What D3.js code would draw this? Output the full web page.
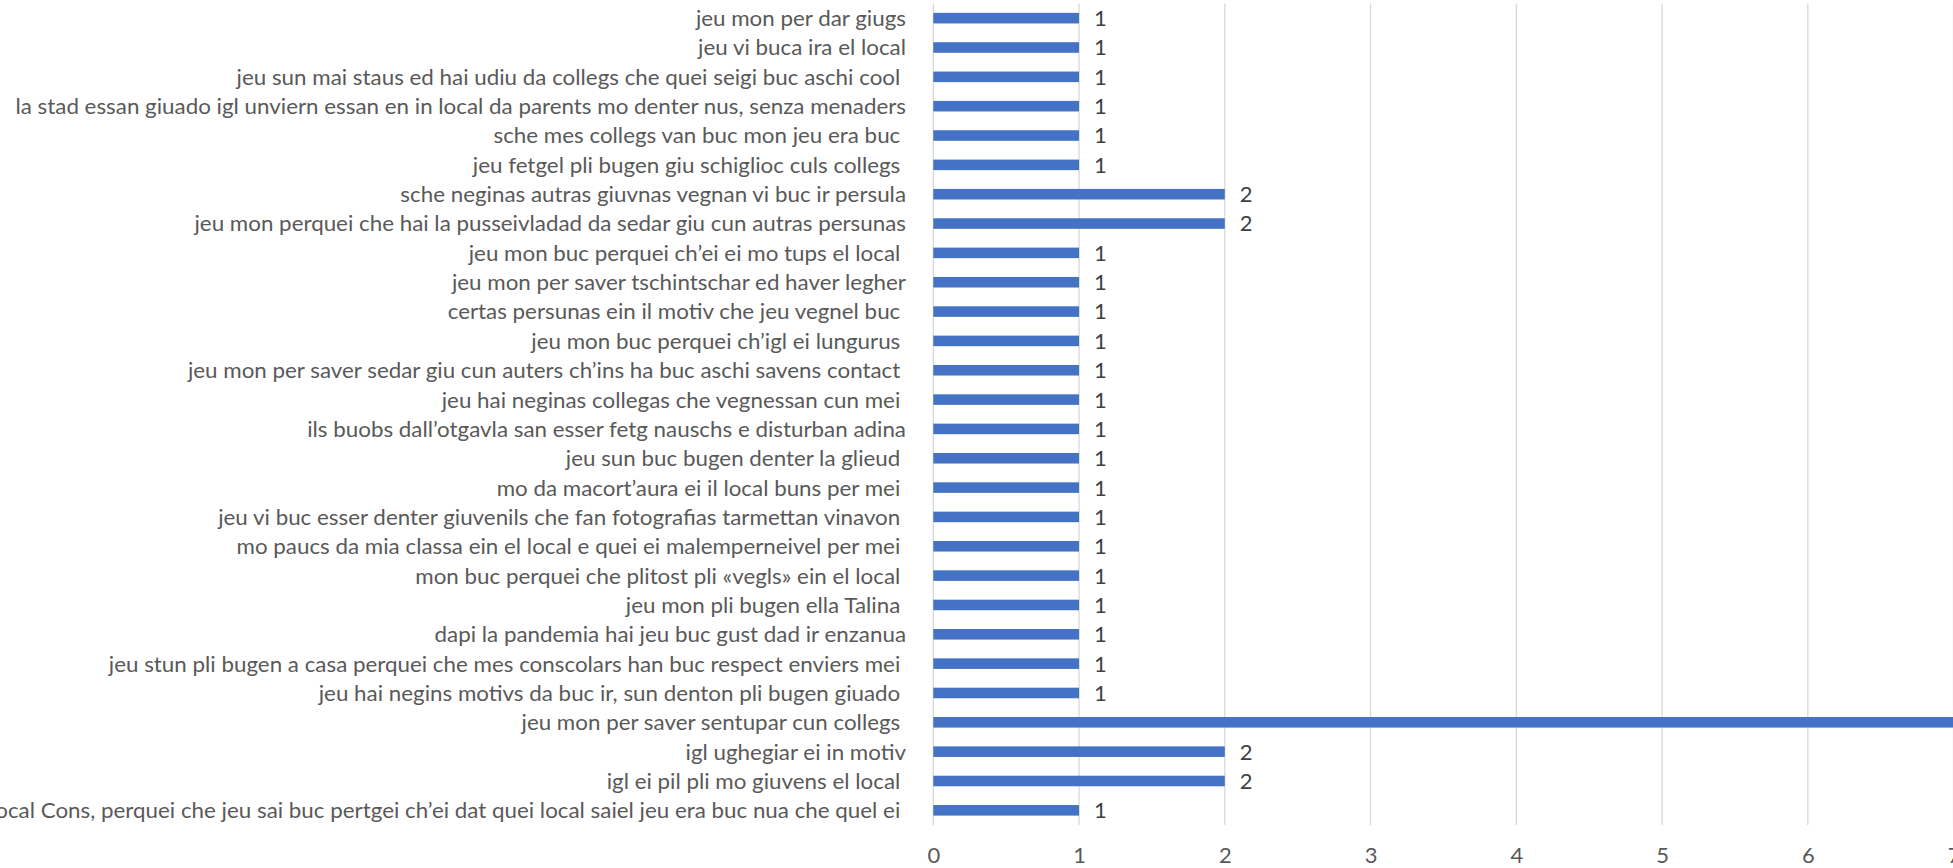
<!DOCTYPE html>
<html><head><meta charset="utf-8">
<script src="https://cdn.jsdelivr.net/npm/d3@7"></script>
<style>
html,body{margin:0;padding:0;background:#fff;overflow:hidden;}
svg{display:block;}
text{font-family:Lato,"Open Sans",sans-serif;white-space:pre;}
</style></head>
<body>
<svg id="chart" width="1953" height="868"></svg>
<script>
const categories = [
  "jeu mon per dar giugs",
  "jeu vi buca ira el local",
  "jeu sun mai staus ed hai udiu da collegs che quei seigi buc aschi cool ",
  "la stad essan giuado igl unviern essan en in local da parents mo denter nus, senza menaders",
  "sche mes collegs van buc mon jeu era buc ",
  "jeu fetgel pli bugen giu schiglioc culs collegs ",
  "sche neginas autras giuvnas vegnan vi buc ir persula",
  "jeu mon perquei che hai la pusseivladad da sedar giu cun autras persunas",
  "jeu mon buc perquei ch’ei ei mo tups el local ",
  "jeu mon per saver tschintschar ed haver legher",
  "certas persunas ein il motiv che jeu vegnel buc ",
  "jeu mon buc perquei ch’igl ei lungurus ",
  "jeu mon per saver sedar giu cun auters ch’ins ha buc aschi savens contact ",
  "jeu hai neginas collegas che vegnessan cun mei ",
  "ils buobs dall’otgavla san esser fetg nauschs e disturban adina",
  "jeu sun buc bugen denter la glieud ",
  "mo da macort’aura ei il local buns per mei ",
  "jeu vi buc esser denter giuvenils che fan fotografias tarmettan vinavon ",
  "mo paucs da mia classa ein el local e quei ei malemperneivel per mei ",
  "mon buc perquei che plitost pli «vegls» ein el local ",
  "jeu mon pli bugen ella Talina ",
  "dapi la pandemia hai jeu buc gust dad ir enzanua",
  "jeu stun pli bugen a casa perquei che mes conscolars han buc respect enviers mei ",
  "jeu hai negins motivs da buc ir, sun denton pli bugen giuado ",
  "jeu mon per saver sentupar cun collegs ",
  "igl ughegiar ei in motiv",
  "igl ei pil pli mo giuvens el local ",
  "local Cons, perquei che jeu sai buc pertgei ch’ei dat quei local saiel jeu era buc nua che quel ei "
];
const values = [1,1,1,1,1,1,2,2,1,1,1,1,1,1,1,1,1,1,1,1,1,1,1,1,8,2,2,1];
const tickValues = [0,1,2,3,4,5,6,7,8];

const svg = d3.select("#chart");
const x0 = 933.3, unit = 145.75;
const x = d3.scaleLinear().domain([0, 8]).range([x0, x0 + 8 * unit]);
const y = d3.scaleBand().domain(categories).range([3.5, 825]).paddingInner(0.64).paddingOuter(0.32);

// gridlines
svg.append("g").selectAll("line").data(tickValues).join("line")
  .attr("x1", d => x(d)).attr("x2", d => x(d))
  .attr("y1", 3.5).attr("y2", 825)
  .attr("stroke", "#D9D9D9").attr("stroke-width", 1.3);

// bars
svg.append("g").selectAll("rect").data(categories).join("rect")
  .attr("x", x(0)).attr("y", d => y(d))
  .attr("width", (d, i) => x(values[i]) - x(0))
  .attr("height", y.bandwidth())
  .attr("fill", "#4472C4");

// data labels
svg.append("g").selectAll("text").data(categories).join("text")
  .attr("x", (d, i) => x(values[i]) + 15)
  .attr("y", d => y(d) + y.bandwidth() / 2)
  .attr("dy", "0.36em")
  .attr("font-size", 22)
  .attr("fill", "#404040")
  .text((d, i) => values[i]);

// category labels (compressed horizontally to mimic a condensed face)
const labelSize = 22;
const labels = svg.append("g").selectAll("text").data(categories).join("text")
  .attr("x", 0)
  .attr("y", 0)
  .attr("dy", "0.36em")
  .attr("text-anchor", "end")
  .attr("font-size", labelSize)
  .attr("fill", "#595959")
  .text(d => d);

const ref = labels.filter((d, i) => i === 3).node();
const k = 891 / ref.getComputedTextLength();
labels.attr("transform", d => `translate(906,${y(d) + y.bandwidth() / 2}) scale(${k},1)`);

// x axis tick labels
const xAxis = d3.axisBottom(x).tickValues(tickValues).tickSize(0).tickPadding(0).tickFormat(d3.format("d"));
const gx = svg.append("g").attr("transform", "translate(0,847)").call(xAxis);
gx.select(".domain").remove();
gx.selectAll("text").attr("font-size", 22).attr("fill", "#595959").attr("font-family", "Lato, sans-serif");
</script>
</body></html>
